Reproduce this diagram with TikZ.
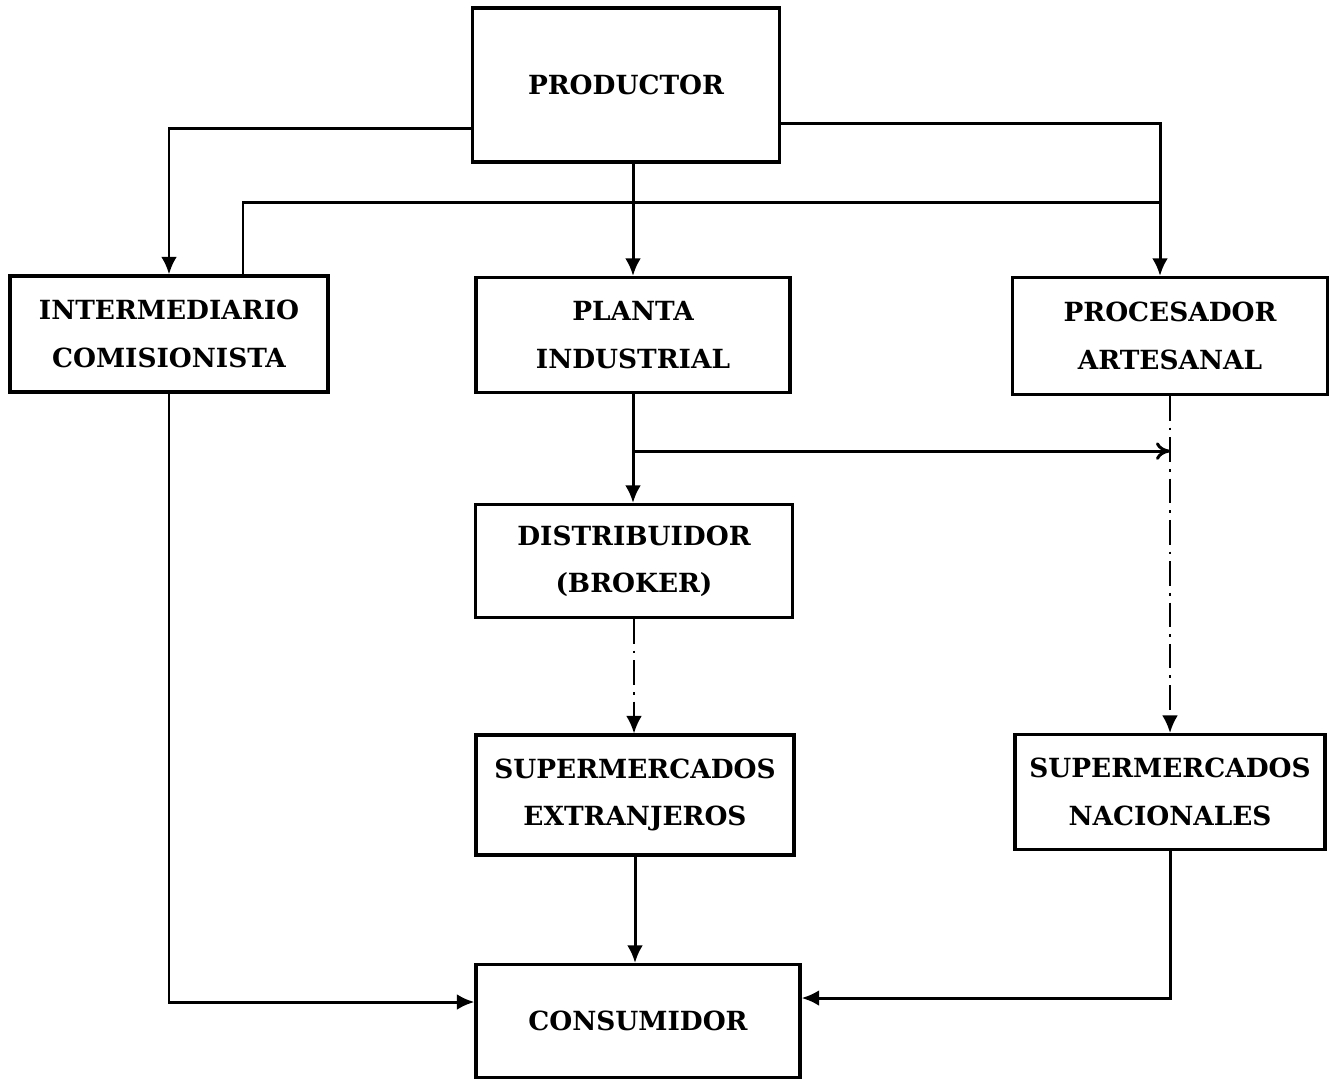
\documentclass[tikz,border=0pt]{standalone}
\usepackage{fontspec}
\setmainfont{DejaVu Serif}
\usetikzlibrary{arrows.meta,calc}
\tikzset{
    caja/.style={draw, line width=1.8pt, inner sep=0pt, align=center,
        font=\bfseries\fontsize{15}{27}\selectfont},
    flujo/.style={line width=1.7pt},
    punteado/.style={line width=1.3pt, dash pattern=on 14pt off 4pt on 1.5pt off 4pt},
}
\begin{document}
\begin{tikzpicture}[>={Latex[length=10pt,width=9pt]}, x=0.02cm, y=-0.02cm]
\useasboundingbox (0,0) rectangle (1335,1080);
% cajas
\node[caja, minimum width=307*0.02cm, minimum height=154*0.02cm] (prod) at (626,85) {PRODUCTOR};
\node[caja, minimum width=318*0.02cm, minimum height=116*0.02cm] (inter) at (169,334) {INTERMEDIARIO\\COMISIONISTA};
\node[caja, minimum width=314*0.02cm, minimum height=115*0.02cm] (planta) at (633,335) {PLANTA\\INDUSTRIAL};
\node[caja, minimum width=315*0.02cm, minimum height=117*0.02cm] (proc) at (1170,336) {PROCESADOR\\ARTESANAL};
\node[caja, minimum width=317*0.02cm, minimum height=113*0.02cm] (dist) at (634,561) {DISTRIBUIDOR\\(BROKER)};
\node[caja, minimum width=318*0.02cm, minimum height=120*0.02cm] (supext) at (635,795) {SUPERMERCADOS\\EXTRANJEROS};
\node[caja, minimum width=310*0.02cm, minimum height=115*0.02cm] (supnac) at (1170,792) {SUPERMERCADOS\\NACIONALES};
\node[caja, minimum width=324*0.02cm, minimum height=113*0.02cm] (cons) at (638,1021) {CONSUMIDOR};

\coordinate (jproc) at ($(proc.north)+(-10,-73)$);
\coordinate (bplanta) at ($(planta.south)+(0,57)$);

% del productor
\draw[flujo,->] ($(prod.west)+(0,43)$) -| (inter.north);
\draw[flujo,->] ($(prod.east)+(0,38)$) -| ($(proc.north)+(-10,0)$);
\draw[flujo,->] (planta.north |- prod.south) -- (planta.north);
\draw[flujo] ($(inter.north)+(74,0)$) |- (jproc);
% planta
\draw[flujo,->] (planta.south) -- (planta.south |- dist.north);
\draw[flujo,-{To[length=8pt,width=10pt]}] (bplanta) -- (bplanta -| proc.south);
\draw[punteado,->] (dist.south) -- (dist.south |- supext.north);
\draw[punteado,->] (proc.south) -- (supnac.north);
% al consumidor
\draw[flujo,->] (supext.south) -- (supext.south |- cons.north);
\draw[flujo,->] (inter.south) |- ($(cons.west)+(0,-19)$);
\draw[flujo,->] (supnac.south) |- ($(cons.east)+(0,-23)$);
\end{tikzpicture}
\end{document}
